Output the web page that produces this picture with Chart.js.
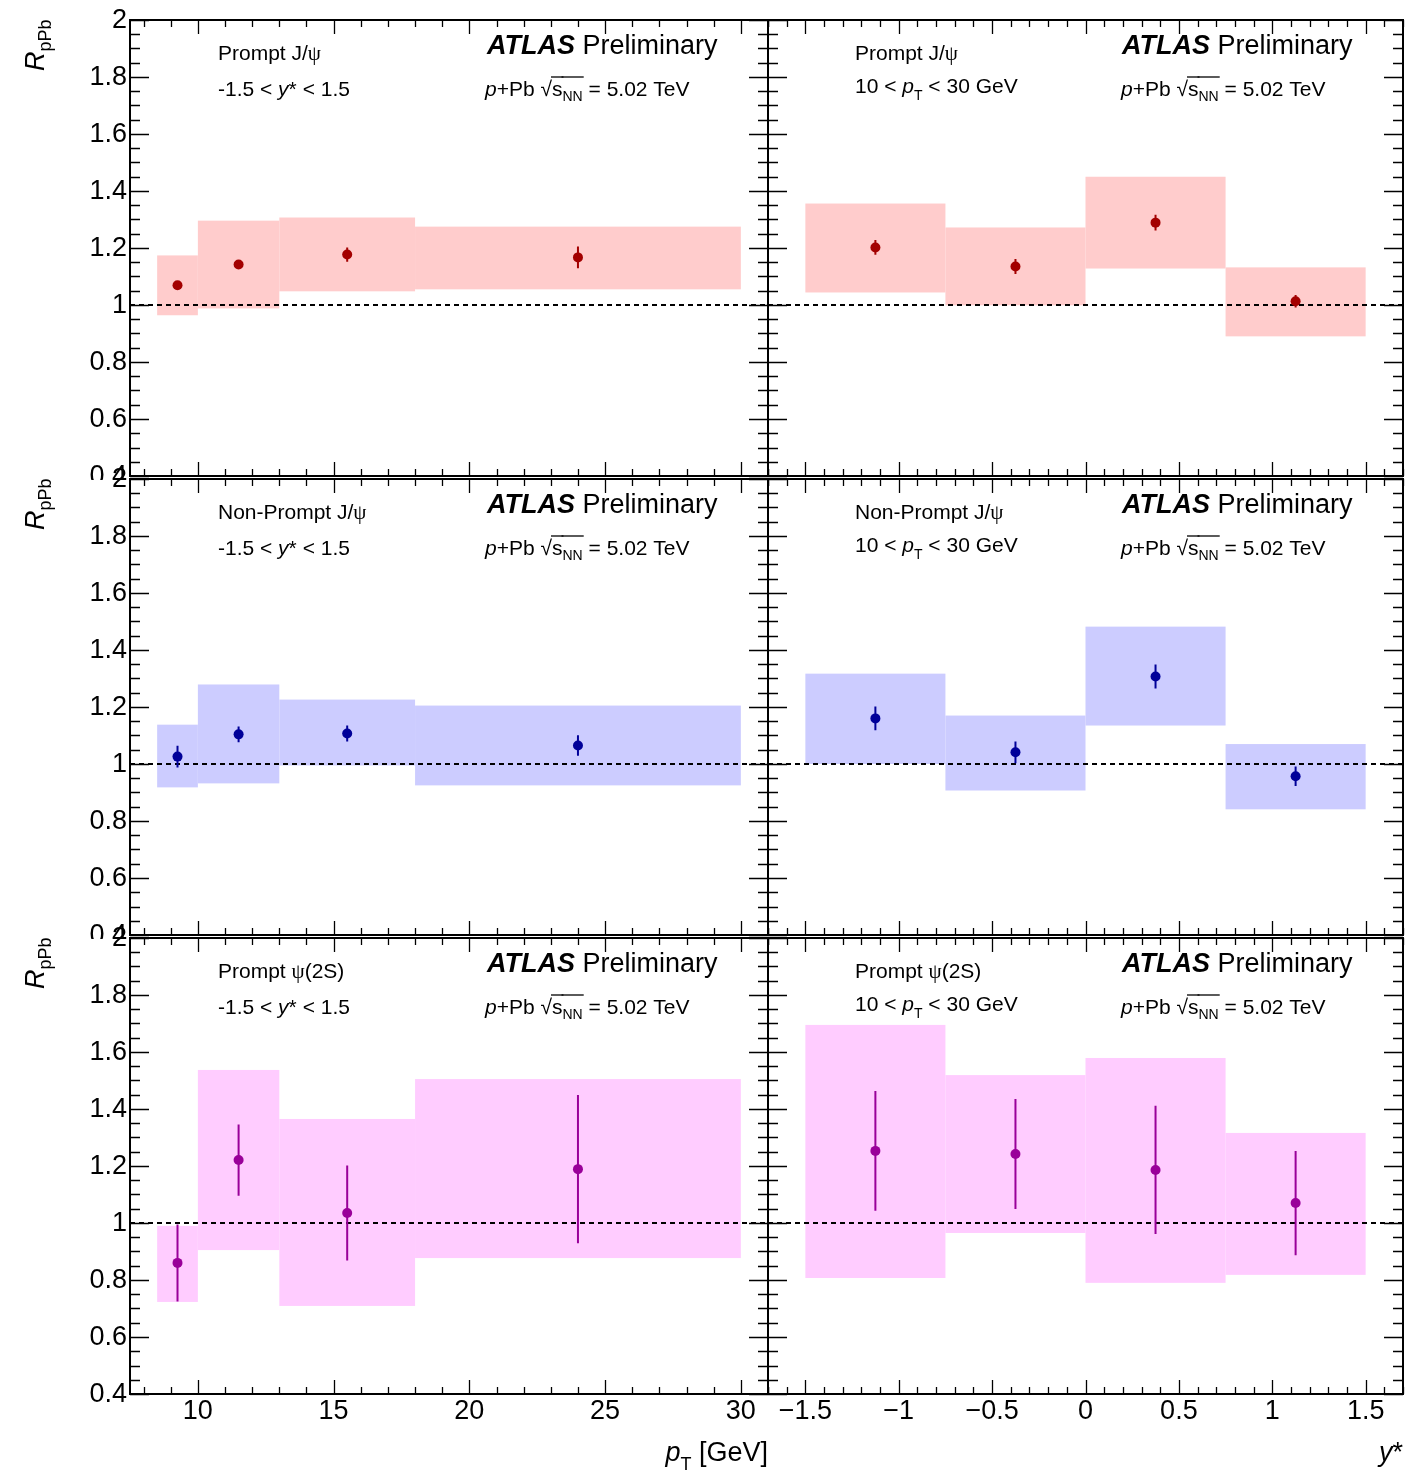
<!DOCTYPE html>
<html>
<head>
<meta charset="utf-8">
<script src="https://cdn.jsdelivr.net/npm/chart.js@4.4.7/dist/chart.umd.min.js"></script>
<style>
  html, body { margin: 0; padding: 0; background: #fff; }
  #page { position: relative; width: 1416px; height: 1472px; overflow: hidden; }
  canvas { position: absolute; }
</style>
</head>
<body>
<div id="page"></div>
<script>
// binning
const ptEdges = [8.5, 10, 13, 18, 30];
const ptCenters = [9.25, 11.5, 15.5, 24];
const yEdges = [-1.5, -0.75, 0, 0.75, 1.5];
const yCenters = [-1.125, -0.375, 0.375, 1.125];

// tick labels
const rTicks = [0.4, 0.6, 0.8, 1, 1.2, 1.4, 1.6, 1.8, 2];
const ptTicks = [10, 15, 20, 25, 30];
const yStarTicks = [-1.5, -1, -0.5, 0, 0.5, 1, 1.5];

// prompt J/psi
const promptPtR = [1.069, 1.142, 1.177, 1.167];
const promptPtStat = [0.012, 0.012, 0.025, 0.038];
const promptPtSysLo = [0.964, 0.988, 1.048, 1.055];
const promptPtSysHi = [1.174, 1.296, 1.307, 1.275];

const promptYR = [1.202, 1.135, 1.289, 1.013];
const promptYStat = [0.026, 0.026, 0.028, 0.022];
const promptYSysLo = [1.044, 0.999, 1.128, 0.890];
const promptYSysHi = [1.356, 1.272, 1.450, 1.132];

// non-prompt J/psi
const nonPromptPtR = [1.026, 1.104, 1.107, 1.065];
const nonPromptPtStat = [0.038, 0.028, 0.028, 0.036];
const nonPromptPtSysLo = [0.918, 0.932, 0.995, 0.925];
const nonPromptPtSysHi = [1.138, 1.279, 1.226, 1.205];

const nonPromptYR = [1.160, 1.041, 1.307, 0.957];
const nonPromptYStat = [0.042, 0.038, 0.042, 0.034];
const nonPromptYSysLo = [1.000, 0.907, 1.135, 0.841];
const nonPromptYSysHi = [1.317, 1.170, 1.482, 1.070];

// prompt psi(2S)
const psi2sPtR = [0.860, 1.221, 1.035, 1.189];
const psi2sPtStat = [0.135, 0.125, 0.167, 0.260];
const psi2sPtSysLo = [0.723, 0.905, 0.709, 0.877];
const psi2sPtSysHi = [0.990, 1.537, 1.365, 1.505];

const psi2sYR = [1.253, 1.242, 1.186, 1.070];
const psi2sYStat = [0.210, 0.193, 0.225, 0.183];
const psi2sYSysLo = [0.807, 0.965, 0.790, 0.818];
const psi2sYSysHi = [1.695, 1.519, 1.579, 1.316];

const SANS = '"Liberation Sans", Arial, sans-serif';
const SERIF = '"Liberation Serif", "Times New Roman", serif';

const page = document.getElementById('page');

function rich(ctx, x, y, parts, measureOnly) {
  let cx = x;
  for (const p of parts) {
    ctx.font = (p.style || '') + ' ' + (p.size || 21) + 'px ' + (p.fam || SANS);
    const w = ctx.measureText(p.t).width;
    if (!measureOnly) {
      ctx.fillText(p.t, cx, y + (p.dy || 0));
      if (p.over) {
        ctx.save();
        ctx.lineWidth = 1.3;
        ctx.beginPath();
        ctx.moveTo(cx - 1, y - p.over);
        ctx.lineTo(cx + w + 1, y - p.over);
        ctx.stroke();
        ctx.restore();
      }
    }
    cx += w;
  }
  return cx - x;
}

function fmt(v, minus) {
  const s = String(Number(v.toFixed(2)));
  return minus ? s.replace('-', '\u2212') : s;
}

const colGeom = [
  { canvasLeft: 0, width: 780, padL: 130, padR: 12 },
  { canvasLeft: 756, width: 660, padL: 12, padR: 13 }
];
const chartTops = [20, 479, 938];
const chartH = 456;

const atlasText = [
  { t: 'ATLAS', size: 27, style: 'italic bold' },
  { t: ' Preliminary', size: 27 }
];
const energyText = [
  { t: 'p', style: 'italic' },
  { t: '+Pb ' },
  { t: '\u221A' },
  { t: 's', over: 19 },
  { t: 'NN', size: 14, dy: 5, over: 19 },
  { t: ' = 5.02 TeV' }
];
const yRangeText = [{ t: '-1.5 < ' }, { t: 'y', style: 'italic' }, { t: '* < 1.5' }];
const ptRangeText = [{ t: '10 < ' }, { t: 'p', style: 'italic' }, { t: 'T', size: 14, dy: 7 }, { t: ' < 30 GeV' }];

const panels = [
  { row: 0, col: 0, centers: ptCenters, edges: ptEdges, r: promptPtR, stat: promptPtStat, lo: promptPtSysLo, hi: promptPtSysHi,
    point: '#a30000', band: '#ffcccc', label: [{ t: 'Prompt J/' }, { t: '\u03C8', fam: SERIF }] },
  { row: 0, col: 1, centers: yCenters, edges: yEdges, r: promptYR, stat: promptYStat, lo: promptYSysLo, hi: promptYSysHi,
    point: '#a30000', band: '#ffcccc', label: [{ t: 'Prompt J/' }, { t: '\u03C8', fam: SERIF }] },
  { row: 1, col: 0, centers: ptCenters, edges: ptEdges, r: nonPromptPtR, stat: nonPromptPtStat, lo: nonPromptPtSysLo, hi: nonPromptPtSysHi,
    point: '#000099', band: '#ccccff', label: [{ t: 'Non-Prompt J/' }, { t: '\u03C8', fam: SERIF }] },
  { row: 1, col: 1, centers: yCenters, edges: yEdges, r: nonPromptYR, stat: nonPromptYStat, lo: nonPromptYSysLo, hi: nonPromptYSysHi,
    point: '#000099', band: '#ccccff', label: [{ t: 'Non-Prompt J/' }, { t: '\u03C8', fam: SERIF }] },
  { row: 2, col: 0, centers: ptCenters, edges: ptEdges, r: psi2sPtR, stat: psi2sPtStat, lo: psi2sPtSysLo, hi: psi2sPtSysHi,
    point: '#990099', band: '#ffccff', label: [{ t: 'Prompt ' }, { t: '\u03C8', fam: SERIF }, { t: '(2S)' }] },
  { row: 2, col: 1, centers: yCenters, edges: yEdges, r: psi2sYR, stat: psi2sYStat, lo: psi2sYSysLo, hi: psi2sYSysHi,
    point: '#990099', band: '#ffccff', label: [{ t: 'Prompt ' }, { t: '\u03C8', fam: SERIF }, { t: '(2S)' }] }
];

function makePanel(p) {
  const g = colGeom[p.col];
  const padTop = 20;
  const padBottom = p.row === 2 ? 78 : 20;
  const w = g.width, h = padTop + chartH + padBottom;
  const canvas = document.createElement('canvas');
  canvas.width = w; canvas.height = h;
  canvas.style.left = g.canvasLeft + 'px';
  canvas.style.top = (chartTops[p.row] - padTop) + 'px';
  canvas.style.width = w + 'px'; canvas.style.height = h + 'px';
  page.appendChild(canvas);

  const isPt = p.col === 0;
  const xMin = isPt ? 7.5 : -1.7, xMax = isPt ? 31 : 1.7;
  const xMajor = isPt ? ptTicks : yStarTicks;
  const xMinorStep = isPt ? 1 : 0.1;

  const hep = {
    id: 'hep',
    beforeDraw(chart) {
      // hide the lower half of the upper panel's last label
      if (p.col === 0 && p.row > 0) {
        const ctx = chart.ctx, a = chart.chartArea;
        ctx.save();
        ctx.fillStyle = '#fff';
        ctx.fillRect(0, a.top + 1, a.left - 1, 16);
        ctx.restore();
      }
    },
    beforeDatasetsDraw(chart) {
      const ctx = chart.ctx, xs = chart.scales.x, ys = chart.scales.y;
      ctx.save();
      ctx.fillStyle = p.band;
      for (let i = 0; i < p.centers.length; i++) {
        const x0 = xs.getPixelForValue(p.edges[i]), x1 = xs.getPixelForValue(p.edges[i + 1]);
        const y0 = ys.getPixelForValue(p.hi[i]), y1 = ys.getPixelForValue(p.lo[i]);
        ctx.fillRect(x0, y0, x1 - x0, y1 - y0);
      }
      ctx.restore();
    },
    beforeDatasetDraw(chart, args) {
      if (args.index !== 0) return;
      const ctx = chart.ctx, xs = chart.scales.x, ys = chart.scales.y;
      ctx.save();
      ctx.strokeStyle = p.point;
      ctx.lineWidth = 2;
      ctx.beginPath();
      for (let i = 0; i < p.centers.length; i++) {
        const x = xs.getPixelForValue(p.centers[i]);
        ctx.moveTo(x, ys.getPixelForValue(p.r[i] + p.stat[i]));
        ctx.lineTo(x, ys.getPixelForValue(p.r[i] - p.stat[i]));
      }
      ctx.stroke();
      ctx.restore();
    },
    afterDraw(chart) {
      const ctx = chart.ctx, a = chart.chartArea, xs = chart.scales.x, ys = chart.scales.y;
      ctx.save();
      ctx.strokeStyle = '#000';
      ctx.fillStyle = '#000';
      // ticks
      ctx.lineWidth = 1.3;
      ctx.beginPath();
      for (let v = 0.4; v <= 2.0001; v += 0.05) {
        const y = Math.round(ys.getPixelForValue(v)) + 0.5;
        const major = Math.abs(v * 5 - Math.round(v * 5)) < 1e-6;
        const len = major ? 19 : 10;
        ctx.moveTo(a.left, y); ctx.lineTo(a.left + len, y);
        ctx.moveTo(a.right, y); ctx.lineTo(a.right - len, y);
      }
      const start = Math.ceil(xMin / xMinorStep - 1e-6);
      const stop = Math.floor(xMax / xMinorStep + 1e-6);
      for (let k = start; k <= stop; k++) {
        const v = k * xMinorStep;
        const x = Math.round(xs.getPixelForValue(v)) + 0.5;
        const major = xMajor.some(m => Math.abs(m - v) < 1e-6);
        const len = major ? 14 : 7;
        ctx.moveTo(x, a.bottom); ctx.lineTo(x, a.bottom - len);
        ctx.moveTo(x, a.top); ctx.lineTo(x, a.top + len);
      }
      ctx.stroke();
      // frame
      ctx.lineWidth = 2;
      ctx.strokeRect(a.left, a.top, a.right - a.left, a.bottom - a.top);

      // tick labels
      ctx.font = '27px ' + SANS;
      if (p.col === 0) {
        ctx.textAlign = 'right';
        ctx.textBaseline = 'middle';
        for (const v of rTicks) ctx.fillText(fmt(v), a.left - 3, ys.getPixelForValue(v) + 1);
      }
      if (p.row === 2) {
        ctx.textAlign = 'center';
        ctx.textBaseline = 'middle';
        for (const v of xMajor) ctx.fillText(fmt(v, true), xs.getPixelForValue(v), a.bottom + 18);
      }

      // texts inside the panel
      ctx.textAlign = 'left';
      ctx.textBaseline = 'alphabetic';
      const lx = a.left + (p.col === 0 ? 88 : 87);
      rich(ctx, lx, a.top + 40, p.label);
      rich(ctx, lx, a.top + (p.col === 0 ? 76 : 73), p.col === 0 ? yRangeText : ptRangeText);
      rich(ctx, a.left + (p.col === 0 ? 357 : 354), a.top + 34, atlasText);
      rich(ctx, a.left + (p.col === 0 ? 355 : 353), a.top + 76, energyText);

      // axis titles
      if (p.col === 0) {
        ctx.save();
        ctx.translate(44, a.top + 51);
        ctx.rotate(-Math.PI / 2);
        rich(ctx, 0, 0, [{ t: 'R', size: 27, style: 'italic' }, { t: 'pPb', size: 18, dy: 7 }]);
        ctx.restore();
      }
      if (p.row === 2) {
        const parts = p.col === 0
          ? [{ t: 'p', size: 27, style: 'italic' }, { t: 'T', size: 18, dy: 9 }, { t: ' [GeV]', size: 27 }]
          : [{ t: 'y', size: 27, style: 'italic' }, { t: '*', size: 27 }];
        const tw = rich(ctx, 0, 0, parts, true);
        rich(ctx, a.right - tw, a.bottom + 67, parts);
      }
      ctx.restore();
    }
  };

  new Chart(canvas, {
    type: 'scatter',
    data: {
      datasets: [
        {
          data: p.centers.map((x, i) => ({ x, y: p.r[i] })),
          backgroundColor: p.point,
          borderColor: p.point,
          borderWidth: 0,
          pointRadius: 5,
          pointHoverRadius: 5
        },
        {
          data: [{ x: xMin, y: 1 }, { x: xMax, y: 1 }],
          showLine: true,
          borderColor: '#000',
          borderWidth: 2,
          borderDash: [5, 4],
          pointRadius: 0
        }
      ]
    },
    options: {
      responsive: false,
      animation: false,
      devicePixelRatio: 1,
      layout: { padding: { left: g.padL, right: g.padR, top: padTop, bottom: padBottom } },
      plugins: { legend: { display: false }, tooltip: { enabled: false } },
      events: [],
      scales: {
        x: { type: 'linear', min: xMin, max: xMax, display: false },
        y: { type: 'linear', min: 0.4, max: 2, display: false }
      }
    },
    plugins: [hep]
  });
}

panels.forEach(makePanel);
</script>
</body>
</html>
